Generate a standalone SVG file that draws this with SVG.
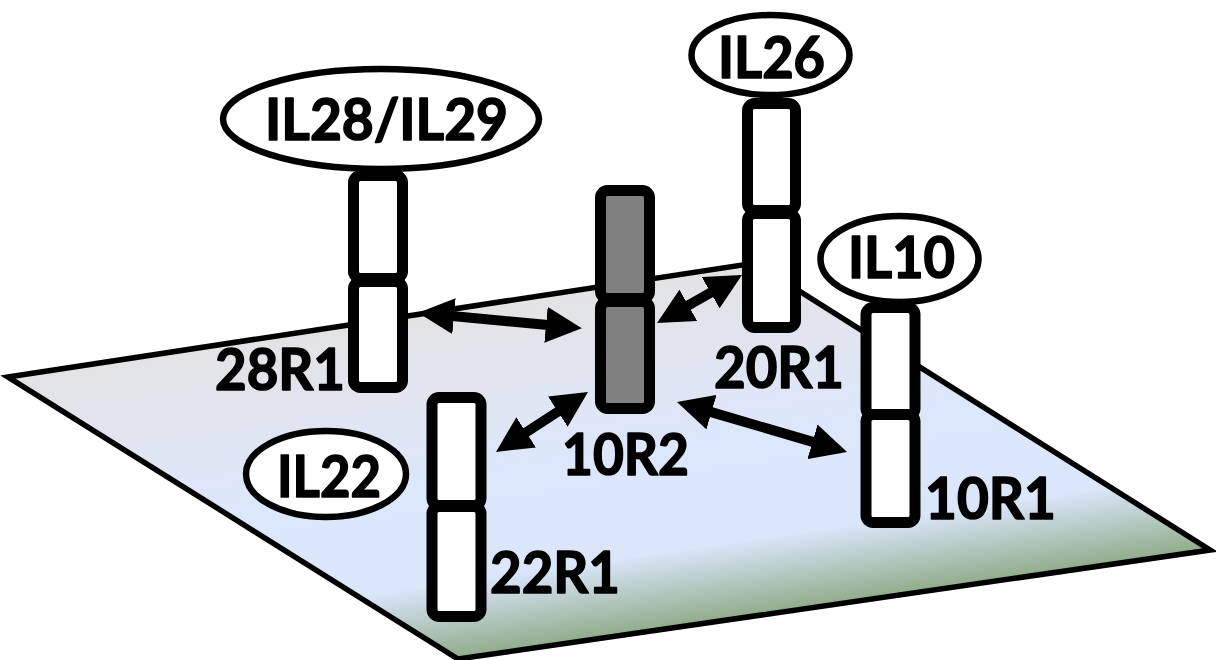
<svg xmlns="http://www.w3.org/2000/svg" width="1216" height="660" viewBox="0 0 1216 660">
<defs>
<linearGradient id="planeGrad" gradientUnits="userSpaceOnUse" x1="755" y1="263" x2="805" y2="609">
<stop offset="0" stop-color="#e3e3e3"/>
<stop offset="0.3" stop-color="#e0e5f3"/>
<stop offset="0.5" stop-color="#dce7fc"/>
<stop offset="0.78" stop-color="#dbe6fb"/>
<stop offset="1" stop-color="#8fab89"/>
</linearGradient>
<marker id="head" markerUnits="userSpaceOnUse" markerWidth="36" markerHeight="36" viewBox="0 0 36 36" refX="2" refY="18" orient="auto-start-reverse">
<path d="M0,0 L36,18 L0,36 z" fill="#000"/>
</marker>
<style>
.plane{fill:url(#planeGrad);stroke:#000;stroke-width:5.5;stroke-linejoin:miter}
.seg{fill:#fff;stroke:#000;stroke-width:11}
.seg.dark{fill:#808080}
.lig{fill:#fff;stroke:#000;stroke-width:6.5}
.lbl{font-family:Lato,"Open Sans","Liberation Sans",sans-serif;font-weight:bold;font-size:57px;fill:#000;stroke:#000;stroke-width:1.6;stroke-linejoin:round}
.arrow{stroke:#000;stroke-width:10;fill:none;marker-start:url(#head);marker-end:url(#head)}
</style>
</defs>

<polygon id="membrane" class="plane" points="8,377 755,263 1210,550 458,659"/>

<g id="connectors">
<line class="arrow" x1="452" y1="316" x2="548" y2="325"/>
<line class="arrow" x1="686.6" y1="306.3" x2="712.4" y2="291.7"/>
<line class="arrow" x1="524.5" y1="433.4" x2="559.5" y2="410.6"/>
<line class="arrow" x1="709.6" y1="411.6" x2="814.4" y2="442.4"/>
</g>

<g id="IL28-IL29">
<ellipse class="lig" cx="381" cy="119" rx="158" ry="50"/>
<text class="lbl" x="265" y="140" textLength="243" lengthAdjust="spacingAndGlyphs">IL28/IL29</text>
</g>
<g id="R28R1">
<rect class="seg" x="353.5" y="175.5" width="49" height="103" rx="7"/>
<rect class="seg" x="353.5" y="281.5" width="49" height="106" rx="7"/>
<text class="lbl" x="215" y="390" textLength="130" lengthAdjust="spacingAndGlyphs">28R1</text>
</g>

<g id="R10R2">
<rect class="seg dark" x="600.5" y="190.5" width="49" height="108" rx="7"/>
<rect class="seg dark" x="600.5" y="301.5" width="49" height="107" rx="7"/>
<text class="lbl" x="562" y="475" textLength="127" lengthAdjust="spacingAndGlyphs">10R2</text>
</g>

<g id="IL26">
<ellipse class="lig" cx="770.5" cy="55" rx="79" ry="40"/>
<text class="lbl" x="718" y="78" textLength="107" lengthAdjust="spacingAndGlyphs">IL26</text>
</g>
<g id="R20R1">
<rect class="seg" x="747.5" y="103.5" width="48" height="107" rx="7"/>
<rect class="seg" x="747.5" y="213.5" width="48" height="114" rx="7"/>
<text class="lbl" x="714" y="388" textLength="130" lengthAdjust="spacingAndGlyphs">20R1</text>
</g>

<g id="IL10">
<ellipse class="lig" cx="899.5" cy="259" rx="79" ry="43"/>
<text class="lbl" x="848" y="278" textLength="107" lengthAdjust="spacingAndGlyphs">IL10</text>
</g>
<g id="R10R1">
<rect class="seg" x="866" y="307.5" width="49" height="108" rx="7"/>
<rect class="seg" x="866" y="414.5" width="49" height="108" rx="7"/>
<text class="lbl" x="925" y="519" textLength="131" lengthAdjust="spacingAndGlyphs">10R1</text>
</g>

<g id="IL22">
<ellipse class="lig" cx="326" cy="474" rx="80" ry="43"/>
<text class="lbl" x="277" y="497" textLength="104" lengthAdjust="spacingAndGlyphs">IL22</text>
</g>
<g id="R22R1">
<rect class="seg" x="432" y="397.5" width="49" height="108" rx="7"/>
<rect class="seg" x="432" y="506.5" width="49" height="110" rx="7"/>
<text class="lbl" x="490" y="593" textLength="130" lengthAdjust="spacingAndGlyphs">22R1</text>
</g>
</svg>
